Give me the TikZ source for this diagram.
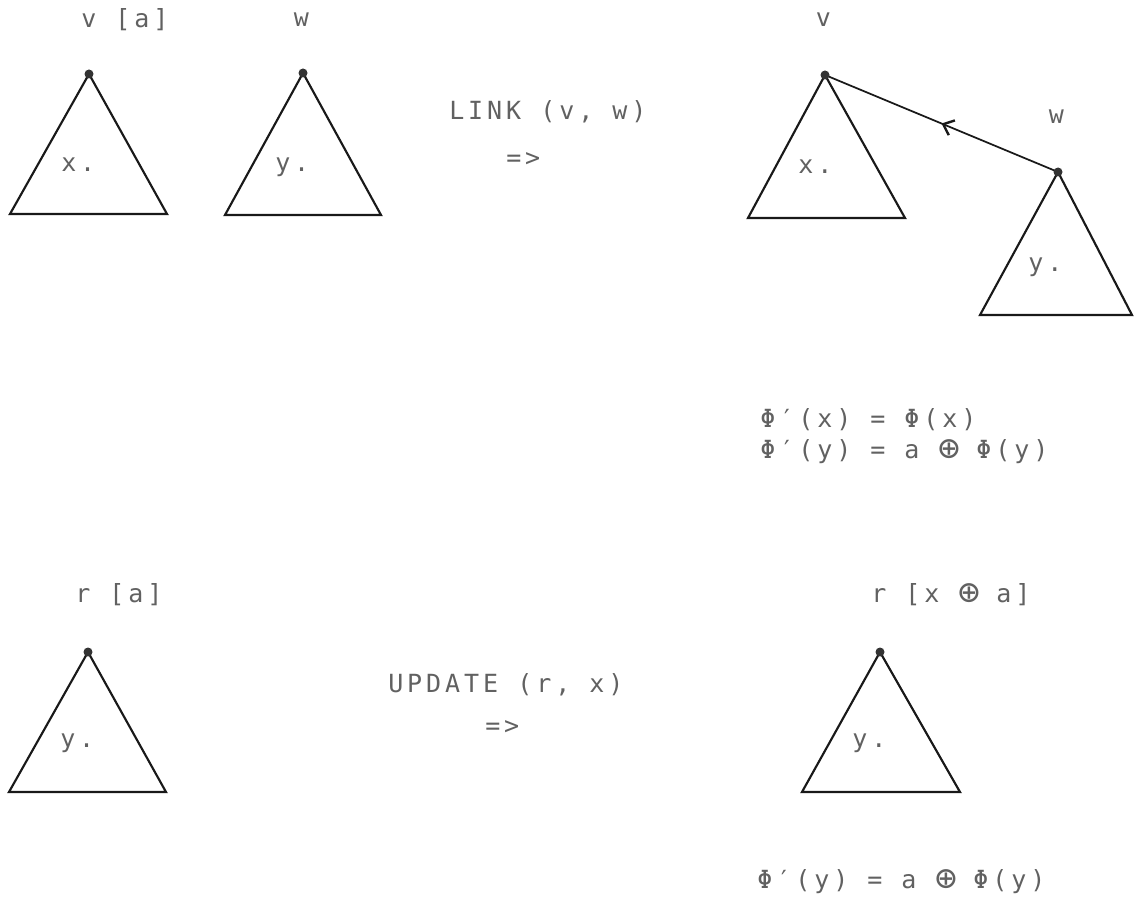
\documentclass[tikz,border=0pt]{standalone}
\usepackage{fontspec}
\usetikzlibrary{arrows.meta,decorations.markings}
\newfontfamily\dotfont[LetterSpace=15.8]{DejaVu Sans Mono}
\newcommand\opl{\makebox[14.25pt][l]{\raisebox{-0.15ex}{\scalebox{1.45}{⊕}}}}
\tikzset{
  lbl/.style={anchor=west, inner sep=0pt, text=black!62, font=\dotfont\fontsize{18.75pt}{20pt}\selectfont},
  tri/.style={draw=black!90, line width=1.6pt, line join=miter},
  apexdot/.style={fill=black!80, draw=none},
  link/.style={draw=black!90, line width=1.3pt,
    decoration={markings, mark=at position 0.5 with {\arrow{Straight Barb[length=7pt,width=12pt,line width=1.8pt]}}},
    postaction=decorate}
}
\begin{document}
\begin{tikzpicture}[x=0.75pt,y=-0.75pt]
\useasboundingbox (0,0) rectangle (1135,898);
% ---------- LINK ----------
\node[lbl] (tv) at (81,20) {v [a]};
\node[lbl] (tw) at (293.5,20) {w};
\coordinate (a1) at (89,74); \coordinate (l1) at (10,214); \coordinate (r1) at (167,214);
\coordinate (a2) at (303,73); \coordinate (l2) at (225,215); \coordinate (r2) at (381,215);
\draw[tri] (a1) -- (l1) -- (r1) -- cycle;
\draw[tri] (a2) -- (l2) -- (r2) -- cycle;
\fill[apexdot] (a1) circle (4.5);
\fill[apexdot] (a2) circle (4.5);
\node[lbl] (x1) at (61,165) {x.};
\node[lbl] (y1) at (275,167) {y.};
\node[lbl] (link) at (449,112) {LINK (v, w)};
\node[lbl] (imp1) at (506,160) {=>};
% right side
\node[lbl] (tv2) at (815.5,20) {v};
\node[lbl] (tw2) at (1048.5,117) {w};
\coordinate (a3) at (825,75); \coordinate (l3) at (748,218); \coordinate (r3) at (905,218);
\coordinate (a4) at (1058,172); \coordinate (l4) at (980,315); \coordinate (r4) at (1132,315);
\draw[tri] (a3) -- (l3) -- (r3) -- cycle;
\draw[tri] (a4) -- (l4) -- (r4) -- cycle;
\draw[link] (a4) -- (a3);
\fill[apexdot] (a3) circle (4.5);
\fill[apexdot] (a4) circle (4.5);
\node[lbl] (x3) at (798,167) {x.};
\node[lbl] (y4) at (1028,267) {y.};
\node[lbl] (f1) at (760,420) {Φ′(x) = Φ(x)};
\node[lbl] (f2) at (760,452) {Φ′(y) = a \opl{} Φ(y)};
% ---------- UPDATE ----------
\node[lbl] (tr) at (75,595) {r [a]};
\coordinate (a5) at (88,652); \coordinate (l5) at (9,792); \coordinate (r5) at (166,792);
\draw[tri] (a5) -- (l5) -- (r5) -- cycle;
\fill[apexdot] (a5) circle (4.5);
\node[lbl] (y5) at (60,743) {y.};
\node[lbl] (upd) at (388,685) {UPDATE (r, x)};
\node[lbl] (imp2) at (485,728) {=>};
\node[lbl] (tr2) at (871,595) {r [x \opl{} a]};
\coordinate (a6) at (880,652); \coordinate (l6) at (802,792); \coordinate (r6) at (960,792);
\draw[tri] (a6) -- (l6) -- (r6) -- cycle;
\fill[apexdot] (a6) circle (4.5);
\node[lbl] (y6) at (852,743) {y.};
\node[lbl] (f3) at (757,882) {Φ′(y) = a \opl{} Φ(y)};
\end{tikzpicture}
\end{document}
